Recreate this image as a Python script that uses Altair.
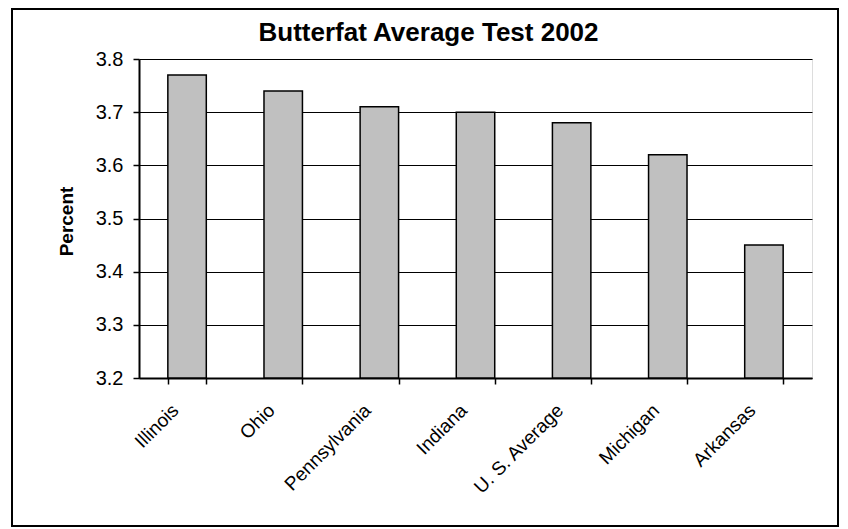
import altair as alt
import pandas as pd

states = ["Illinois", "Ohio", "Pennsylvania", "Indiana", "U. S. Average", "Michigan", "Arkansas"]
percent = [3.77, 3.74, 3.71, 3.70, 3.68, 3.62, 3.45]
y_ticks = [3.2, 3.3, 3.4, 3.5, 3.6, 3.7, 3.8]

df = pd.DataFrame({"State": states, "Percent": percent})
FONT = "Liberation Sans, Arial, sans-serif"

bars = alt.Chart(df).mark_bar(
    color="#C0C0C0", stroke="black", strokeWidth=1.5
).encode(
    x=alt.X("State:N", sort=states,
            scale=alt.Scale(paddingInner=0.6, paddingOuter=0.3),
            axis=alt.Axis(title=None, labelAngle=-45, labelAlign="right", labelBaseline="middle",
                          tickBand="extent", tickSize=6, tickColor="black", tickWidth=1.5,
                          domainColor="black", domainWidth=2, labelFontSize=19, labelFont=FONT,
                          labelColor="black", labelPadding=23, labelOffset=-12, grid=False)),
    y=alt.Y("Percent:Q",
            scale=alt.Scale(domain=[3.2, 3.8], zero=False, nice=False),
            axis=alt.Axis(title="Percent", values=y_ticks, format=".1f", grid=True,
                          gridColor="black", gridWidth=1, tickSize=6, tickColor="black",
                          tickWidth=1.5, domainColor="black", domainWidth=2,
                          labelFontSize=20, labelFont=FONT, labelColor="black", labelPadding=10,
                          titleFont=FONT, titleFontSize=19, titleFontWeight="bold",
                          titleColor="black", titleX=-73, titleY=162, titleAngle=-90,
                          titleAlign="center", titleBaseline="middle")),
    y2=alt.datum(3.2),
)

border = alt.Chart(alt.Data(values=[{"a": 1}])).mark_rect(
    fillOpacity=0, stroke="black", strokeWidth=2, clip=False
).encode(
    x=alt.value(-127), x2=alt.value(699), y=alt.value(-50), y2=alt.value(467)
)

chart = alt.layer(border, bars).properties(
    width=673, height=319,
    autosize=alt.AutoSizeParams(type="none"),
    padding={"left": 131, "top": 51, "right": 28, "bottom": 152},
    title=alt.TitleParams("Butterfat Average Test 2002", font=FONT, fontSize=26,
                          fontWeight="bold", color="black", dx=-47, dy=59,
                          offset=0, baseline="alphabetic"),
).configure_view(stroke="black", strokeWidth=2).configure(background="white")

chart.save("out.html", embed_options={"renderer": "svg", "actions": False})
